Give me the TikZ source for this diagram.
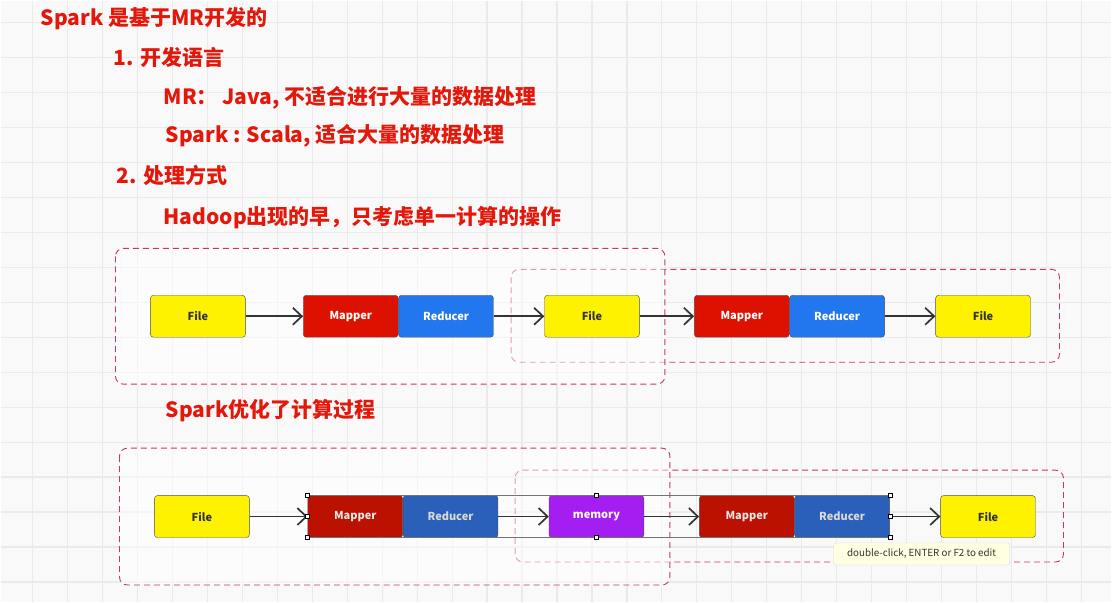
\documentclass[tikz,border=0pt]{standalone}
\usepackage{fontspec}
\setmainfont{Noto Sans CJK SC}
\usetikzlibrary{arrows.meta,positioning,calc}

\definecolor{pagebg}{HTML}{F9F9F9}
\definecolor{gridcol}{HTML}{EAEAEA}
\definecolor{notered}{HTML}{E3170A}
\definecolor{framedark}{HTML}{C8385A}
\definecolor{filefill}{HTML}{FFF200}
\definecolor{mapfill}{HTML}{DD1100}
\definecolor{redfill}{HTML}{2277EE}
\definecolor{mapdark}{HTML}{BB1100}
\definecolor{reddark}{HTML}{2A60BA}
\definecolor{memfill}{HTML}{A41EF2}
\definecolor{tipfill}{HTML}{FFFFE1}

\tikzset{
  note/.style={anchor=west, text=notered, inner sep=0pt,
    font=\bfseries\fontsize{21}{24}\selectfont},
  block/.style={draw=black!70, rounded corners=3pt, minimum width=95pt,
    minimum height=42pt, inner sep=0pt, font=\bfseries\fontsize{11}{13}\selectfont},
  filebox/.style={block, fill=filefill, text=black!80},
  mapbox/.style={block, fill=mapfill, text=white},
  redbox/.style={block, fill=redfill, text=white},
  frame/.style={draw=framedark, dash pattern=on 6pt off 4pt, rounded corners=8pt, line width=0.9pt},
  flow/.style={->, draw=black!80, line width=1.7pt},
  selline/.style={draw=black!55, line width=0.6pt},
  handle/.style={fill=white, draw=black, line width=0.5pt}
}

\begin{document}
\begin{tikzpicture}[x=1pt, y=-1pt, >={Straight Barb[length=9pt, width=17pt]}]
  % Canvas with grid
  \fill[pagebg] (0,0) rectangle (1112,602);
  \foreach \gx in {32,67,...,1112} \draw[gridcol, line width=1.2pt] (\gx,0) -- (\gx,602);
  \foreach \gy in {22,57,...,602} \draw[gridcol, line width=1.2pt] (0,\gy) -- (1112,\gy);
  \useasboundingbox (0,0) rectangle (1112,602);

  % Notes
  \node[note] (title) at (40,18) {Spark 是基于MR开发的};
  \node[note] (lang) at (113,57) {1. 开发语言};
  \node[note] (mrlang) at (163,97) {MR：\ Java, 不适合进行大量的数据处理};
  \node[note] (sparklang) at (165,135) {Spark : Scala, 适合大量的数据处理};
  \node[note] (mode) at (116,175) {2. 处理方式};
  \node[note] (hadoop) at (163,217) {Hadoop出现的早，只考虑单一计算的操作};
  \node[note] (spark) at (165,410) {Spark优化了计算过程};

  % Hadoop: two separate jobs
  \draw[frame] (511,269) rectangle (1060,362);
  \fill[white, opacity=0.5, rounded corners=8pt] (115,248) rectangle (665,384);
  \draw[frame] (115,248) rectangle (665,384);

  \node[filebox] (hin) at (197.5,316) {File};
  \node[mapbox] (hmapa) at (350.5,316) {Mapper};
  \node[redbox, right=0pt of hmapa] (hreda) {Reducer};
  \node[filebox] (hmid) at (592,316) {File};
  \node[mapbox] (hmapb) at (742,316) {Mapper};
  \node[redbox, right=0pt of hmapb] (hredb) {Reducer};
  \node[filebox] (hout) at (983.5,316) {File};

  \draw[flow] (hin) -- (hmapa);
  \draw[flow] (hreda) -- (hmid);
  \draw[flow] (hmid) -- (hmapb);
  \draw[flow] (hredb) -- (hout);

  % Spark: intermediate result kept in memory
  \draw[frame] (515,470) rectangle (1064,562);
  \fill[white, opacity=0.5, rounded corners=8pt] (119,448) rectangle (670,585);
  \draw[frame] (119,448) rectangle (670,585);

  \node[filebox] (sin) at (201.5,516.5) {File};
  \node[mapbox, fill=mapdark, text=black!10] (smapa) at (355,516.5) {Mapper};
  \node[redbox, fill=reddark, text=black!15, right=0pt of smapa] (sreda) {Reducer};
  \node[block, fill=memfill, text=white] (smem) at (596.5,516.5) {memory};
  \node[mapbox, fill=mapdark, text=black!10] (smapb) at (747,516.5) {Mapper};
  \node[redbox, fill=reddark, text=black!15, right=0pt of smapb] (sredb) {Reducer};
  \node[filebox] (sout) at (988.5,516.5) {File};

  \draw[flow] (sin) -- (smapa);
  \draw[flow] (sreda) -- (smem);
  \draw[flow] (smem) -- (smapb);
  \draw[flow] (sredb) -- (sout);

  % selection outline and handles
  \draw[selline] (smapa.north west) -- (sredb.north east);
  \draw[selline] (smapa.south west) -- (sredb.south east);
  \foreach \h in {smapa.north west, smapa.west, smapa.south west, smem.north, smem.south,
                  sredb.north east, sredb.east, sredb.south east}
    \draw[handle] ($(\h)+(-2,-2)$) rectangle ($(\h)+(2,2)$);

  % tooltip
  \node[fill=tipfill, draw=black!15, rounded corners=2pt, minimum width=176pt,
    minimum height=22pt, inner sep=0pt, font=\fontsize{9.8}{11}\selectfont, text=black!80]
    (tip) at (922,554) {double-click, ENTER or F2 to edit};
\end{tikzpicture}
\end{document}
